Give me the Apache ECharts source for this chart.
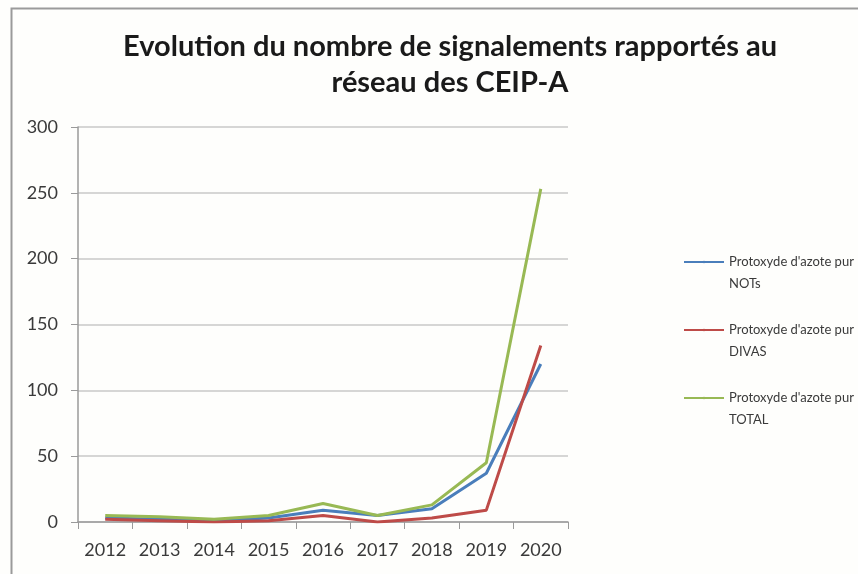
<!DOCTYPE html>
<html>
<head>
<meta charset="utf-8">
<script src="https://cdn.jsdelivr.net/npm/echarts@6/dist/echarts.min.js"></script>
<style>
  html, body { margin: 0; padding: 0; background: #fff; }
  #chart { width: 858px; height: 574px; }
</style>
</head>
<body>
<div id="chart"></div>
<script>
  var years = ['2012', '2013', '2014', '2015', '2016', '2017', '2018', '2019', '2020'];
  var seriesNames = [
    "Protoxyde d'azote pur\nNOTs",
    "Protoxyde d'azote pur\nDIVAS",
    "Protoxyde d'azote pur\nTOTAL"
  ];
  var nots = [3, 2, 1, 3, 9, 5, 10, 37, 120];
  var divas = [2, 1, 0, 1, 5, 0, 3, 9, 134];
  var total = [5, 4, 2, 5, 14, 5, 13, 45, 253];
  var colors = ['#4a7ebb', '#be4b48', '#98b954'];

  var font = 'Lato';
  var chart = echarts.init(document.getElementById('chart'));

  function mkSeries(name, data, color) {
    return {
      name: name,
      type: 'line',
      data: data,
      symbol: 'none',
      lineStyle: { color: color, width: 3 },
      itemStyle: { color: color }
    };
  }

  chart.setOption({
    backgroundColor: '#fefefc',
    animation: false,
    graphic: [{
      type: 'rect',
      left: 9, top: 6,
      shape: { width: 870, height: 600 },
      style: { fill: 'none', stroke: '#9a9a9a', lineWidth: 2 },
      silent: true
    }],
    title: {
      text: 'Evolution du nombre de signalements rapportés au\nréseau des CEIP-A',
      left: 445,
      top: 24,
      textAlign: 'center',
      textStyle: {
        fontFamily: font,
        fontWeight: 'bold',
        fontSize: 29,
        lineHeight: 36,
        color: '#1a1a1a'
      }
    },
    legend: {
      orient: 'vertical',
      left: 678,
      top: 224,
      itemWidth: 40,
      itemHeight: 3,
      itemGap: 2,
      data: seriesNames,
      // empty first line so the line icon sits level with the first text row
      formatter: function (name) { return '\n' + name; },
      textStyle: {
        fontFamily: font,
        fontSize: 13,
        lineHeight: 22,
        color: '#3a3a3a'
      }
    },
    grid: {
      left: 78,
      right: 290,
      top: 127,
      bottom: 52,
      containLabel: false
    },
    xAxis: {
      type: 'category',
      data: years,
      boundaryGap: true,
      axisLine: { lineStyle: { color: '#9a9a9a', width: 1.5 } },
      axisTick: { show: true, length: 7, lineStyle: { color: '#9a9a9a' } },
      axisLabel: {
        fontFamily: font,
        fontSize: 18,
        color: '#3a3a3a',
        margin: 19
      }
    },
    yAxis: {
      type: 'value',
      min: 0,
      max: 300,
      interval: 50,
      axisLine: { show: true, lineStyle: { color: '#9a9a9a', width: 1.5 } },
      axisTick: { show: true, length: 7, lineStyle: { color: '#9a9a9a' } },
      splitLine: { lineStyle: { color: '#c8c8c8', width: 1.5 } },
      axisLabel: {
        fontFamily: font,
        fontSize: 18,
        color: '#3a3a3a',
        margin: 20
      }
    },
    series: [
      mkSeries(seriesNames[0], nots, colors[0]),
      mkSeries(seriesNames[1], divas, colors[1]),
      mkSeries(seriesNames[2], total, colors[2])
    ]
  });
</script>
</body>
</html>
